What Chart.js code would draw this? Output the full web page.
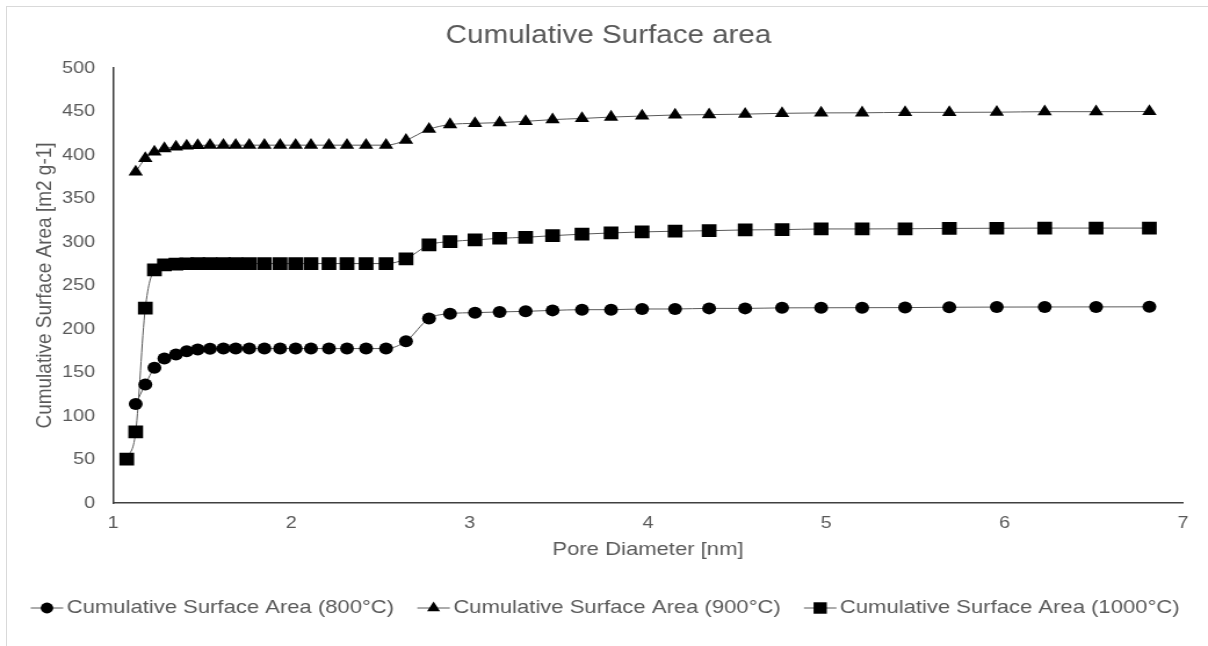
<!DOCTYPE html>
<html>
<head>
<meta charset="utf-8">
<title>Cumulative Surface area</title>
<script src="https://cdn.jsdelivr.net/npm/chart.js@4.4.1/dist/chart.umd.min.js"></script>
<style>
    html, body { margin: 0; padding: 0; background: #fff; overflow: hidden; }
    #frame { position: absolute; left: 6px; top: 6px; width: 1300px; height: 700px; border: 1px solid #d9d9d9; }
    /* the reference is stretched sideways, so the chart is drawn narrower and widened */
    #wrap { position: absolute; left: 0; top: 0; width: 1041px; height: 646px; transform: scaleX(1.1604); transform-origin: 0 0; }
</style>
</head>
<body>
<div id="frame"></div>
<div id="wrap"><canvas id="surfaceChart"></canvas></div>
<script>
// Pore diameter [nm], shared by all three series
const poreDiameter = [1.077, 1.127, 1.181, 1.232, 1.288, 1.353, 1.413, 1.475, 1.544, 1.619,
    1.688, 1.764, 1.849, 1.937, 2.024, 2.110, 2.211, 2.312, 2.419, 2.531,
    2.643, 2.772, 2.890, 3.030, 3.168, 3.314, 3.465, 3.630, 3.793, 3.967,
    4.152, 4.343, 4.545, 4.752, 4.971, 5.201, 5.442, 5.690, 5.956, 6.225,
    6.513, 6.812];

// Cumulative surface area [m2 g-1]
const area800 = [null, 113.7, 136.3, 155.4, 166, 170.7, 174.5, 176.4, 177.2, 177.5,
    177.5, 177.5, 177.5, 177.5, 177.5, 177.5, 177.5, 177.5, 177.5, 177.5,
    186, 212, 217.6, 218.8, 219.6, 220.3, 221.4, 222.2, 222.2, 223,
    223, 223.7, 223.7, 224.3, 224.4, 224.5, 224.6, 225, 225.2, 225.3,
    225.4, 225.5];

const area900 = [null, 380.6, 396, 403.5, 407.4, 409.3, 410.4, 411, 411.3, 411.3,
    411.3, 411.3, 411.3, 411.3, 411.3, 411.3, 411.3, 411.3, 411.3, 411.3,
    417, 429.6, 435, 436.4, 437.2, 438.7, 440.7, 442, 443.6, 444.8,
    446, 446.4, 447, 447.9, 448.4, 448.5, 449, 449, 449.2, 449.8,
    449.8, 450];

const area1000 = [50.4, 81.7, 224, 268, 273.8, 274.5, 275, 275.2, 275.2, 275.2,
    275.2, 275.2, 275.2, 275.2, 275.2, 275.2, 275.2, 275.2, 275.2, 275.2,
    280.6, 296.7, 300.5, 302.4, 304.3, 305.4, 307.3, 309, 310.4, 311.6,
    312.4, 313, 313.9, 314.2, 315, 315, 315.2, 315.6, 315.8, 316,
    316, 316];

const seriesLabels = ['Cumulative Surface Area (800°C)', 'Cumulative Surface Area (900°C)', 'Cumulative Surface Area (1000°C)'];
const chartTitle = 'Cumulative Surface area';

const textColor = '#595959';
const fontFamily = '"Liberation Sans", Arial, sans-serif';

function toPoints(values) {
    return poreDiameter
        .map((x, i) => ({ x: x, y: values[i] }))
        .filter(p => p.y !== null);
}

function makeDataset(label, values, style, radius) {
    return {
        label: label,
        data: toPoints(values),
        borderColor: '#595959',
        borderWidth: 1,
        pointStyle: style,
        pointRadius: radius,
        pointHoverRadius: radius,
        pointBackgroundColor: '#000',
        pointBorderWidth: 0,
        cubicInterpolationMode: 'monotone',
        fill: false
    };
}

// Title and legend, drawn like the original (legend has a line through each marker)
const titleAndLegend = {
    id: 'titleAndLegend',
    afterDraw(chart) {
        const ctx = chart.ctx;
        ctx.save();

        ctx.fillStyle = textColor;
        ctx.font = '25.5px ' + fontFamily;
        ctx.textAlign = 'center';
        ctx.textBaseline = 'middle';
        ctx.fillText(chartTitle, 524.4, 36);

        ctx.font = '19px ' + fontFamily;
        const segW = 28, gapText = 3, gapItem = 20;
        const items = chart.data.datasets.map(ds => ({ ds: ds, w: ctx.measureText(ds.label).width }));
        const total = items.reduce((s, it) => s + segW + gapText + it.w, 0) + gapItem * (items.length - 1);
        let x = (chart.width - total) / 2 + 1;
        const y = 608;
        items.forEach(it => {
            ctx.strokeStyle = it.ds.borderColor;
            ctx.lineWidth = it.ds.borderWidth;
            ctx.beginPath();
            ctx.moveTo(x, y);
            ctx.lineTo(x + segW, y);
            ctx.stroke();
            ctx.fillStyle = '#000';
            Chart.helpers.drawPoint(ctx, {
                pointStyle: it.ds.pointStyle,
                radius: it.ds.pointRadius * 0.9,
                borderWidth: 0,
                rotation: 0
            }, x + segW / 2, y);
            ctx.fillStyle = textColor;
            ctx.textAlign = 'left';
            ctx.textBaseline = 'middle';
            ctx.fillText(it.ds.label, x + segW + gapText, y);
            x += segW + gapText + it.w + gapItem;
        });
        ctx.restore();
    }
};

new Chart(document.getElementById('surfaceChart'), {
    type: 'line',
    data: {
        datasets: [
            makeDataset(seriesLabels[0], area800, 'circle', 6),
            makeDataset(seriesLabels[1], area900, 'triangle', 7.2),
            makeDataset(seriesLabels[2], area1000, 'rect', 9)
        ]
    },
    options: {
        responsive: true,
        maintainAspectRatio: false,
        animation: false,
        layout: { padding: { left: 10, right: 21.6, top: 68, bottom: 83 } },
        scales: {
            x: {
                type: 'linear',
                min: 1,
                max: 7,
                ticks: { stepSize: 1, padding: 10, color: textColor, font: { family: fontFamily, size: 17 } },
                grid: { display: false, drawTicks: false },
                border: { display: true, color: '#404040', width: 1.5 },
                title: {
                    display: true,
                    text: 'Pore Diameter [nm]',
                    color: textColor,
                    font: { family: fontFamily, size: 19 },
                    padding: { top: 0, bottom: 1.6 }
                },
                afterFit: function(scale) { scale.height = 60; }
            },
            y: {
                min: 0,
                max: 500,
                ticks: { stepSize: 50, padding: 15.5, color: textColor, font: { family: fontFamily, size: 17 } },
                grid: { display: false, drawTicks: false },
                border: { display: true, color: '#404040', width: 1.5 },
                title: {
                    display: true,
                    text: 'Cumulative Surface Area [m2 g-1]',
                    color: textColor,
                    font: { family: fontFamily, size: 19 },
                    padding: { top: 17, bottom: 0 }
                },
                afterFit: function(scale) { scale.width = 87.4; }
            }
        },
        plugins: {
            legend: { display: false },
            tooltip: { enabled: false },
            title: { display: false }
        }
    },
    plugins: [titleAndLegend]
});
</script>
</body>
</html>
